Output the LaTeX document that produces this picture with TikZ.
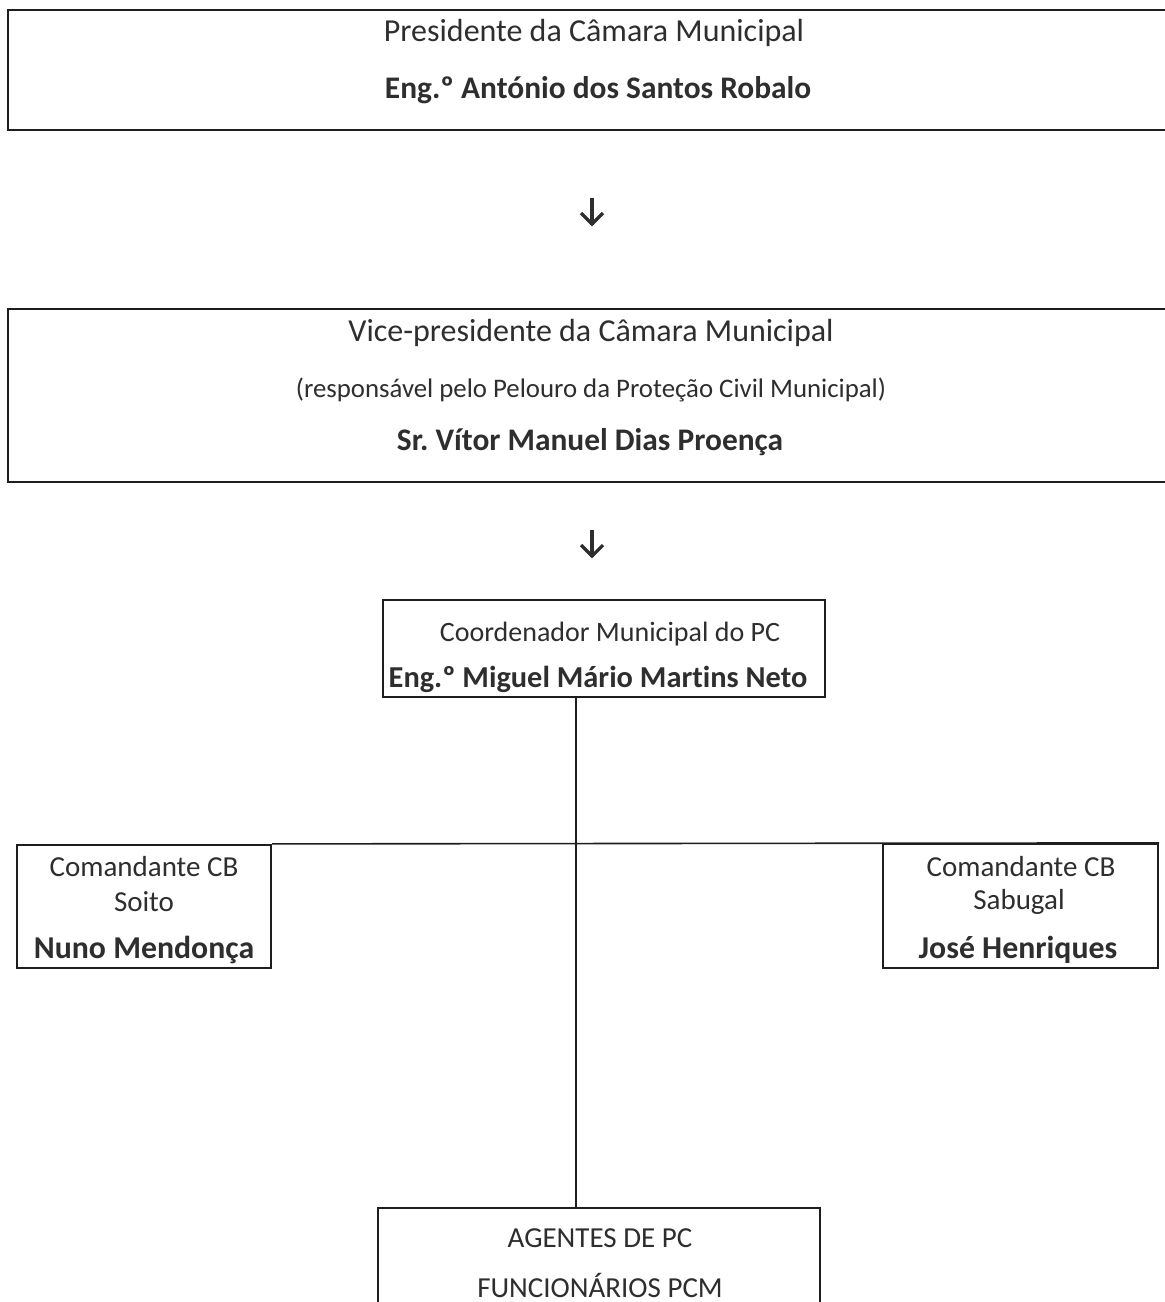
\documentclass[tikz,border=0pt]{standalone}
\usepackage{fontspec}
\setmainfont{Carlito}[Ligatures=NoCommon]
\frenchspacing
\definecolor{txtgray}{HTML}{2E2E2E}
\definecolor{linegray}{HTML}{1E1E1E}
\begin{document}
\begin{tikzpicture}[x=0.5pt,y=-0.5pt,
  txt/.style={inner sep=0pt, text=txtgray, anchor=center},
  frame/.style={draw=linegray, line width=1.1pt, inner sep=0pt, rectangle},
  conn/.style={draw=linegray, line width=0.8pt},
  glypharrow/.style={draw=txtgray, line width=1.6pt, line cap=butt, line join=miter},
  big/.style={font=\fontsize{16}{18}\selectfont},
  bigb/.style={font=\fontsize{15.7}{18}\selectfont\bfseries},
  small/.style={font=\fontsize{13.4}{15}\selectfont},
  mid/.style={font=\fontsize{14}{16}\selectfont},
  midb/.style={font=\fontsize{15.2}{17}\selectfont\bfseries},
  ag/.style={font=\fontsize{14.5}{16}\selectfont},
  cb/.style={font=\fontsize{14.5}{16}\selectfont},
  cbb/.style={font=\fontsize{15.9}{17}\selectfont\bfseries}]
\useasboundingbox[fill=white] (0,0) rectangle (1165,1302);

% Box 1 : Presidente (open on the right, runs off the page)
\node[frame, minimum width=583.5pt, minimum height=60pt] (pres) at (591.5,70) {};
\node[txt, big]  (presA) at (594,33) {Presidente da Câmara Municipal};
\node[txt, bigb] (presB) at (598,90) {Eng.º António dos Santos Robalo};

% arrow 1
\coordinate (arA) at (592,198);
\draw[glypharrow] (arA) -- ++(0,27);
\draw[glypharrow] ([shift={(-11,15)}]arA) -- ++(11,11) -- ++(11,-11);

% Box 2 : Vice-presidente
\node[frame, minimum width=583.5pt, minimum height=86.5pt] (vice) at (591.5,395.5) {};
\node[txt, big]   (viceA) at (591,333) {Vice-presidente da Câmara Municipal};
\node[txt, small] (viceB) at (591,390) {(responsável pelo Pelouro da Proteção Civil Municipal)};
\node[txt, bigb]  (viceC) at (590,442) {Sr. Vítor Manuel Dias Proença};

% arrow 2
\coordinate (arB) at (592,530);
\draw[glypharrow] (arB) -- ++(0,27);
\draw[glypharrow] ([shift={(-11,15)}]arB) -- ++(11,11) -- ++(11,-11);

% Coordenador
\node[frame, minimum width=221pt, minimum height=48.5pt] (coord) at (604,648.5) {};
\node[txt, mid]  (coordA) at (610,634) {Coordenador Municipal do PC};
\node[txt, midb] (coordB) at (598,679) {Eng.º Miguel Mário Martins Neto};

% Comandante Soito
\node[frame, minimum width=127pt, minimum height=61.5pt] (soito) at (144,906.5) {};
\node[txt, cb]  (soitoA) at (144,867) {Comandante CB};
\node[txt, cb]  (soitoB) at (144,902) {Soito};
\node[txt, cbb] (soitoC) at (144,950) {Nuno Mendonça};

% Comandante Sabugal
\node[frame, minimum width=137.5pt, minimum height=62pt] (sabugal) at (1020.5,906) {};
\node[txt, cb]  (sabA) at (1021,867) {Comandante CB};
\node[txt, cb]  (sabB) at (1019,902) {Sabugal};
\node[txt, cbb] (sabC) at (1018,950) {José Henriques};

% Agentes (open at the bottom, runs off the page)
\node[frame, minimum width=221pt, minimum height=60pt] (agentes) at (599,1268) {};
\node[txt, ag] (agA) at (600,1238) {AGENTES DE PC};
\node[txt, ag] (agB) at (600,1285) {FUNCIONÁRIOS PCM};

% connectors
\coordinate (vline) at (576,0);
\draw[conn] (coord.south -| vline) -- (agentes.north -| vline);
\draw[conn] (soito.north east) -- (sabugal.north east);
\end{tikzpicture}
\end{document}
